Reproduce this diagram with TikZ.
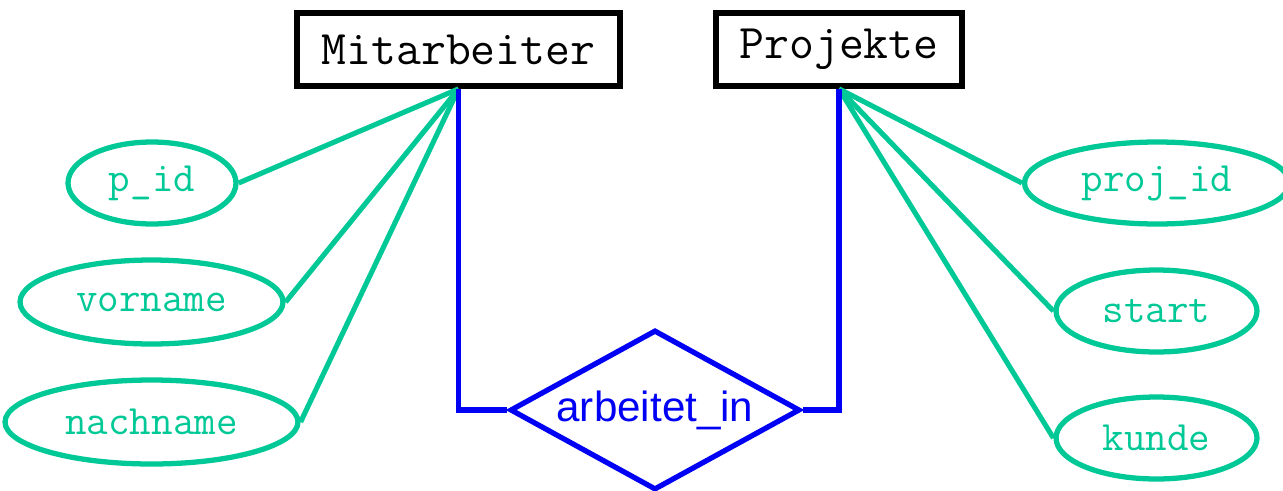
\documentclass[tikz,border=0pt]{standalone}
\usepackage{fontspec}
\usepackage{tikz}
\usetikzlibrary{shapes.geometric}
\newfontfamily\erfsans{Liberation Sans}
\definecolor{attrgreen}{RGB}{0,200,150}
\definecolor{relblue}{RGB}{0,0,245}

\begin{document}
\begin{tikzpicture}[x=0.02cm,y=-0.02cm,
  entity/.style={draw=black, line width=3.3pt, rectangle, inner sep=0pt,
    font=\ttfamily\fontsize{27.5}{29}\selectfont},
  attrib/.style={draw=attrgreen, line width=3pt, ellipse, inner sep=0pt,
    text=attrgreen, font=\ttfamily\fontsize{23.8}{25}\selectfont},
  relation/.style={draw=relblue, line width=3pt, diamond, aspect=1.81, inner sep=0pt,
    text=relblue, font=\erfsans\fontsize{24}{26}\selectfont},
  attrline/.style={attrgreen, line width=2.9pt},
  relline/.style={relblue, line width=3.3pt}]

\useasboundingbox (0,0) rectangle (1283,490);

% entities
\node[entity, minimum width=6.46cm, minimum height=1.46cm] (mitarbeiter) at (458.5,49.5) {Mitarbeiter};
\node[entity, minimum width=4.92cm, minimum height=1.46cm] (projekte) at (839,49.5) {Projekte};

% attributes
\node[attrib, minimum width=3.36cm, minimum height=1.64cm] (pid) at (152,183) {p\_id};
\node[attrib, minimum width=5.26cm, minimum height=1.68cm] (vorname) at (151.5,302) {vorname};
\node[attrib, minimum width=5.86cm, minimum height=1.68cm] (nachname) at (151.5,422) {nachname};
\node[attrib, minimum width=5.30cm, minimum height=1.64cm] (projid) at (1157,183) {proj\_id};
\node[attrib, minimum width=4.02cm, minimum height=1.64cm] (start) at (1156.5,311) {start};
\node[attrib, minimum width=4.02cm, minimum height=1.64cm] (kunde) at (1156.5,438) {kunde};

% relationship
\node[relation, minimum width=5.8cm, minimum height=3.2cm] (arbeitet) at (655,410) {arbeitet\_in};

\draw[attrline] (mitarbeiter.south) -- (pid.east);
\draw[attrline] (mitarbeiter.south) -- (vorname.east);
\draw[attrline] (mitarbeiter.south) -- (nachname.east);
\draw[attrline] (projekte.south) -- (projid.west);
\draw[attrline] (projekte.south) -- (start.west);
\draw[attrline] (projekte.south) -- (kunde.west);

\draw[relline] (mitarbeiter.south) |- (arbeitet.west);
\draw[relline] (projekte.south) |- (arbeitet.east);

\end{tikzpicture}
\end{document}
